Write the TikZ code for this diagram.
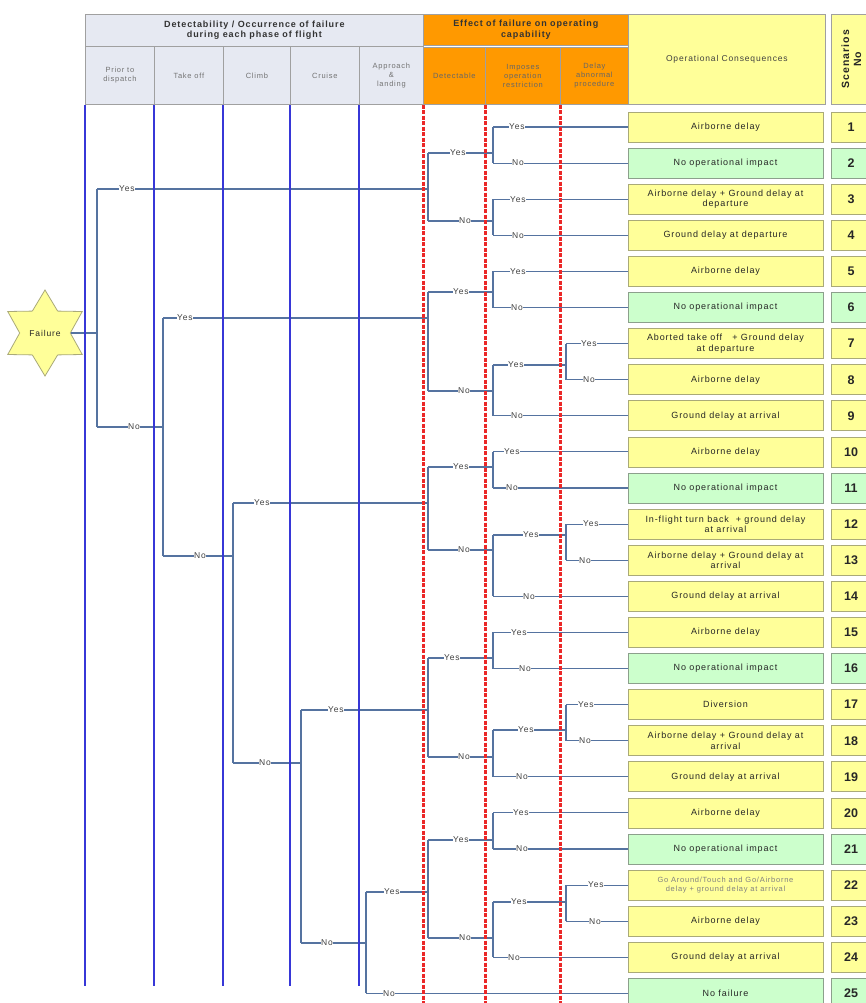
\documentclass[tikz,border=0pt]{standalone}
\usepackage{fontspec}
\setmainfont{Liberation Sans}
\newfontfamily\spc[LetterSpace=10]{Liberation Sans}
\usetikzlibrary{shapes.geometric}
\definecolor{hdrblue}{RGB}{230,233,242}
\definecolor{hdrorange}{RGB}{255,153,0}
\definecolor{boxyellow}{RGB}{255,255,153}
\definecolor{boxgreen}{RGB}{204,255,204}
\definecolor{vblue}{RGB}{55,55,215}
\definecolor{vred}{RGB}{235,40,40}
\definecolor{treec}{RGB}{85,115,160}
\definecolor{gridgray}{RGB}{160,160,160}
\definecolor{ybord}{RGB}{170,170,120}
\definecolor{gbord}{RGB}{140,160,140}
\newcommand\tbrk[4]{\coordinate (#1t) at (#2,#3); \coordinate (#1b) at (#2,#4); \draw[tree] (#1t) -- (#1b);}
\newcommand\tedge[4]{\draw[tree] (#1) -- (#2) node[lbl,pos=0,anchor=west,xshift=#4]{#3};}
\begin{document}
\begin{tikzpicture}[x=1pt,y=-1pt,
  hdrb/.style={draw=gridgray, line width=0.7pt, fill=hdrblue, inner sep=0pt, align=center, anchor=north west, text=black!55, font=\spc\fontsize{7.5}{9}\selectfont},
  hdro/.style={hdrb, fill=hdrorange, text=black!60},
  hdrtop/.style={font=\spc\bfseries\fontsize{9}{10.5}\selectfont, text=black!80},
  hdry/.style={hdrb, fill=boxyellow, text=black!75, font=\spc\fontsize{8.5}{10}\selectfont},
  scen/.style={draw=ybord, line width=0.7pt, minimum width=195, minimum height=30, inner sep=1pt, align=center, text=black!85, font=\spc\fontsize{9}{10.5}\selectfont},
  yb/.style={scen, fill=boxyellow},
  gb/.style={scen, fill=boxgreen, draw=gbord},
  num/.style={draw=ybord, line width=0.7pt, fill=boxyellow, minimum width=40, minimum height=30, inner sep=0pt, font=\bfseries\fontsize{12.5}{12.5}\selectfont, text=black!85},
  numg/.style={num, fill=boxgreen, draw=gbord},
  tree/.style={draw=treec, line width=1.1pt},
  lbl/.style={fill=white, inner sep=0.6pt, text=black!75, font=\spc\fontsize{8.5}{9}\selectfont},
  vb/.style={draw=vblue, line width=2.2pt},
  vr/.style={draw=vred, line width=3pt, dash pattern=on 4pt off 1.5pt},
  star6/.style={star, star points=6, star point ratio=1.7, minimum size=86, inner sep=0pt, fill=boxyellow, draw=ybord, line width=0.8pt, font=\spc\fontsize{8.5}{9}\selectfont, text=black!85}
]
\useasboundingbox (0,0) rectangle (866,1003);
% ---------- header ----------
\node[hdrb, hdrtop, minimum width=338, minimum height=32] (hG1) at (85,14) {Detectability / Occurrence of failure\\during each phase of flight};
\node[hdro, hdrtop, minimum width=205, minimum height=31] (hG2) at (423,14) {Effect of failure on operating\\capability};
\node[hdrb, minimum width=69, minimum height=58] (hP) at (85,46) {Prior to\\dispatch};
\node[hdrb, minimum width=69, minimum height=58] (hT) at (154,46) {Take off};
\node[hdrb, minimum width=67, minimum height=58] (hC) at (223,46) {Climb};
\node[hdrb, minimum width=69, minimum height=58] (hCr) at (290,46) {Cruise};
\node[hdrb, minimum width=64, minimum height=58] (hA) at (359,46) {Approach\\\&\\landing};
\node[hdro, minimum width=62, minimum height=57] (hD) at (423,47) {Detectable};
\node[hdro, minimum width=75, minimum height=57] (hI) at (485,47) {Imposes\\operation\\restriction};
\node[hdro, minimum width=68, minimum height=57] (hDl) at (560,47) {Delay\\abnormal\\procedure};
\node[hdry, minimum width=197, minimum height=90] (hO) at (628,14) {Operational Consequences};
\node[hdry, minimum width=40, minimum height=90] (hS) at (831,14) {};
\node[rotate=90, align=center, font=\spc\bfseries\fontsize{10.5}{12}\selectfont, text=black!85] (hSt) at (hS.center) {Scenarios\\No};
% ---------- scenario boxes ----------
\node[yb] (s1) at (725.5,127) {Airborne delay};
\node[gb] (s2) at (725.5,163.1) {No operational impact};
\node[yb] (s3) at (725.5,199.2) {Airborne delay + Ground delay at\\departure};
\node[yb] (s4) at (725.5,235.3) {Ground delay at departure};
\node[yb] (s5) at (725.5,271.4) {Airborne delay};
\node[gb] (s6) at (725.5,307.5) {No operational impact};
\node[yb] (s7) at (725.5,343.6) {Aborted take off \ \ + Ground delay\\at departure};
\node[yb] (s8) at (725.5,379.7) {Airborne delay};
\node[yb] (s9) at (725.5,415.8) {Ground delay at arrival};
\node[yb] (s10) at (725.5,451.9) {Airborne delay};
\node[gb] (s11) at (725.5,488) {No operational impact};
\node[yb] (s12) at (725.5,524.1) {In-flight turn back \ + ground delay\\at arrival};
\node[yb] (s13) at (725.5,560.2) {Airborne delay + Ground delay at\\arrival};
\node[yb] (s14) at (725.5,596.3) {Ground delay at arrival};
\node[yb] (s15) at (725.5,632.4) {Airborne delay};
\node[gb] (s16) at (725.5,668.5) {No operational impact};
\node[yb] (s17) at (725.5,704.6) {Diversion};
\node[yb] (s18) at (725.5,740.7) {Airborne delay + Ground delay at\\arrival};
\node[yb] (s19) at (725.5,776.8) {Ground delay at arrival};
\node[yb] (s20) at (725.5,812.9) {Airborne delay};
\node[gb] (s21) at (725.5,849) {No operational impact};
\node[yb, text=black!50, font=\spc\fontsize{7.5}{8.5}\selectfont] (s22) at (725.5,885.1) {Go Around/Touch and Go/Airborne\\delay + ground delay at arrival};
\node[yb] (s23) at (725.5,921.2) {Airborne delay};
\node[yb] (s24) at (725.5,957.3) {Ground delay at arrival};
\node[gb] (s25) at (725.5,993.4) {No failure};
\foreach \i/\y/\st in {1/127/num,2/163.1/numg,3/199.2/num,4/235.3/num,5/271.4/num,6/307.5/numg,7/343.6/num,8/379.7/num,9/415.8/num,10/451.9/num,11/488/numg,12/524.1/num,13/560.2/num,14/596.3/num,15/632.4/num,16/668.5/numg,17/704.6/num,18/740.7/num,19/776.8/num,20/812.9/num,21/849/numg,22/885.1/num,23/921.2/num,24/957.3/num,25/993.4/numg}
  \node[\st] (n\i) at (851,\y) {\i};
% ---------- failure star ----------
\node[star6] (F) at (45,333) {Failure};
% ---------- brackets ----------
\tbrk{L1}{97}{189}{427}
\tbrk{L2}{163}{318}{556}
\tbrk{L3}{233}{503}{763}
\tbrk{L4}{301}{710}{943}
\tbrk{L5}{366}{892}{993.4}
\tbrk{DA}{428}{153}{221}
\tbrk{DB}{428}{292}{391}
\tbrk{DC}{428}{467}{550}
\tbrk{DD}{428}{658}{757}
\tbrk{DE}{428}{840}{938}
\tbrk{A1}{493}{127}{163.1}
\tbrk{A2}{493}{199.2}{235.3}
\tbrk{B1}{493}{271.4}{307.5}
\tbrk{B2}{493}{365}{415.8}
\tbrk{PB}{566}{343.6}{379.7}
\tbrk{C1}{493}{451.9}{488}
\tbrk{C2}{493}{535}{596.3}
\tbrk{PC}{566}{524.1}{560.2}
\tbrk{D1}{493}{632.4}{668.5}
\tbrk{D2}{493}{730}{776.8}
\tbrk{PD}{566}{704.6}{740.7}
\tbrk{E1}{493}{812.9}{849}
\tbrk{E2}{493}{902}{957.3}
\tbrk{PE}{566}{885.1}{921.2}
% ---------- edges ----------
\draw[tree] (F.east) -- (F.east -| L1t);
\tedge{L1t}{L1t -| DAt}{Yes}{21}
\tedge{L1b}{L1b -| L2t}{No}{30}
\tedge{L2t}{L2t -| DBt}{Yes}{13}
\tedge{L2b}{L2b -| L3t}{No}{30}
\tedge{L3t}{L3t -| DCt}{Yes}{20}
\tedge{L3b}{L3b -| L4t}{No}{25}
\tedge{L4t}{L4t -| DDt}{Yes}{26}
\tedge{L4b}{L4b -| L5t}{No}{19}
\tedge{L5t}{L5t -| DEt}{Yes}{17}
\tedge{L5b}{s25.west}{No}{16}
\tedge{DAt}{DAt -| A1t}{Yes}{21}
\tedge{DAb}{DAb -| A2t}{No}{30}
\tedge{A1t}{s1.west}{Yes}{15}
\tedge{A1b}{s2.west}{No}{18}
\tedge{A2t}{s3.west}{Yes}{16}
\tedge{A2b}{s4.west}{No}{18}
\tedge{DBt}{DBt -| B1t}{Yes}{24}
\tedge{DBb}{DBb -| B2t}{No}{29}
\tedge{B1t}{s5.west}{Yes}{16}
\tedge{B1b}{s6.west}{No}{17}
\tedge{B2t}{B2t -| PBt}{Yes}{14}
\tedge{B2b}{s9.west}{No}{17}
\tedge{PBt}{s7.west}{Yes}{14}
\tedge{PBb}{s8.west}{No}{16}
\tedge{DCt}{DCt -| C1t}{Yes}{24}
\tedge{DCb}{DCb -| C2t}{No}{29}
\tedge{C1t}{s10.west}{Yes}{10}
\tedge{C1b}{s11.west}{No}{12}
\tedge{C2t}{C2t -| PCt}{Yes}{29}
\tedge{C2b}{s14.west}{No}{29}
\tedge{PCt}{s12.west}{Yes}{16}
\tedge{PCb}{s13.west}{No}{12}
\tedge{DDt}{DDt -| D1t}{Yes}{15}
\tedge{DDb}{DDb -| D2t}{No}{29}
\tedge{D1t}{s15.west}{Yes}{17}
\tedge{D1b}{s16.west}{No}{25}
\tedge{D2t}{D2t -| PDt}{Yes}{24}
\tedge{D2b}{s19.west}{No}{22}
\tedge{PDt}{s17.west}{Yes}{11}
\tedge{PDb}{s18.west}{No}{12}
\tedge{DEt}{DEt -| E1t}{Yes}{24}
\tedge{DEb}{DEb -| E2t}{No}{30}
\tedge{E1t}{s20.west}{Yes}{19}
\tedge{E1b}{s21.west}{No}{22}
\tedge{E2t}{E2t -| PEt}{Yes}{17}
\tedge{E2b}{s24.west}{No}{14}
\tedge{PEt}{s22.west}{Yes}{21}
\tedge{PEb}{s23.west}{No}{22}
% ---------- phase guide lines ----------
\foreach \h in {hP,hT,hC,hCr,hA}
  \draw[vb] (\h.south west) -- ++(0,881);
\foreach \h in {hD,hI,hDl}
  \draw[vr] (\h.south west) -- ++(0,900);
\end{tikzpicture}
\end{document}
